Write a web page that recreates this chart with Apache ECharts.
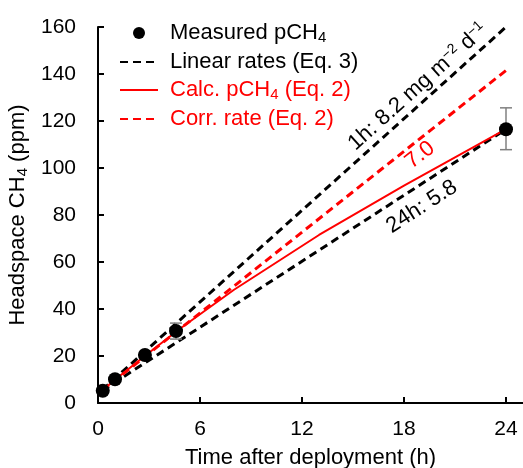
<!DOCTYPE html>
<html><head><meta charset="utf-8">
<script src="https://cdn.jsdelivr.net/npm/echarts@6/dist/echarts.min.js"></script>
<style>html,body{margin:0;padding:0;background:#fff}#c{width:523px;height:468px}</style>
</head><body><div id="c"></div>
<script>
// ---- data ----
const measuredTime = [0.28, 1.0, 2.76, 4.59, 24];
const measuredCH4  = [5.2, 10.1, 20.4, 30.6, 116.5];
const errTime = [4.59, 24];
const errLow  = [27.2, 107.8];
const errHigh = [34.0, 125.6];
const rate1hTime  = [0.25, 24];
const rate1hCH4   = [5.6, 160];
const rate24hTime = [0.25, 24];
const rate24hCH4  = [5.3, 116.5];
const calcTime = [0.25, 1, 2.75, 4.8, 8, 13, 18, 24];
const calcCH4  = [5.3, 9.9, 20, 31.5, 48.2, 71.5, 92.5, 116.5];
const corrTime = [0.25, 24];
const corrCH4  = [5.3, 141.5];
const xTicks = [0, 6, 12, 18, 24];
const yTicks = [0, 20, 40, 60, 80, 100, 120, 140, 160];
const seriesNames = ['Measured pCH4', 'Linear rates (Eq. 3)', 'Calc. pCH4 (Eq. 2)', 'Corr. rate (Eq. 2)'];
const annoTime = [18.82, 18.94, 19.05];
const annoCH4  = [134.5, 105.5, 83.5];
const annoText = ['{a|1h: 8.2 mg m}{sup|−2}{a| d}{sup|−1}', '{r|7.0}', '{a|24h: 5.8}'];
const annoAngle = [41.9, 38.4, 32.9];
const annoColor = ['#000', '#ff0000', '#000'];

const FONT = "'Liberation Sans', Arial, Helvetica, sans-serif";
const zip = (a, b) => a.map((v, i) => [v, b[i]]);

const legendFmt = {
  'Measured pCH4': '{k|Measured pCH}{ks|4}',
  'Linear rates (Eq. 3)': '{k|Linear rates (Eq. 3)}',
  'Calc. pCH4 (Eq. 2)': '{r|Calc. pCH}{rs|4}{r| (Eq. 2)}',
  'Corr. rate (Eq. 2)': '{r|Corr. rate (Eq. 2)}'
};

const chart = echarts.init(document.getElementById('c'), null, {renderer: 'canvas'});
const option = {
  animation: false,
  backgroundColor: '#fff',
  textStyle: {fontFamily: FONT},
  grid: {left: 98, right: 0, top: 27, bottom: 65, containLabel: false, outerBoundsMode: 'none'},
  legend: {
    orient: 'vertical', left: 114, top: 17, itemWidth: 38, itemHeight: 12, itemGap: 6,
    selectedMode: false,
    data: [
      {name: seriesNames[0]},
      {name: seriesNames[1], itemStyle: {opacity: 0}},
      {name: seriesNames[2], itemStyle: {opacity: 0}},
      {name: seriesNames[3], itemStyle: {opacity: 0}}
    ],
    formatter: n => legendFmt[n],
    textStyle: {
      fontFamily: FONT, fontSize: 22, padding: [0, 0, 0, 7],
      rich: {
        k: {fontSize: 22, color: '#000', lineHeight: 24, fontFamily: FONT},
        ks: {fontSize: 15, color: '#000', lineHeight: 14, verticalAlign: 'bottom', fontFamily: FONT},
        r: {fontSize: 22, color: '#ff0000', lineHeight: 24, fontFamily: FONT},
        rs: {fontSize: 15, color: '#ff0000', lineHeight: 14, verticalAlign: 'bottom', fontFamily: FONT}
      }
    }
  },
  xAxis: {
    type: 'value', min: 0, max: 25, interval: 6,
    axisLine: {lineStyle: {color: '#000', width: 2}},
    axisTick: {inside: true, length: 6, customValues: xTicks, lineStyle: {color: '#000', width: 2}},
    axisLabel: {customValues: xTicks, fontSize: 21, color: '#000', margin: 16, fontFamily: FONT},
    splitLine: {show: false},
    name: 'Time after deployment (h)', nameLocation: 'middle', nameGap: 44,
    nameTextStyle: {fontSize: 22, color: '#000', fontFamily: FONT}
  },
  yAxis: {
    type: 'value', min: 0, max: 160, interval: 20,
    axisLine: {show: true, lineStyle: {color: '#000', width: 2}},
    axisTick: {show: true, inside: true, length: 6, customValues: yTicks, lineStyle: {color: '#000', width: 2}},
    axisLabel: {customValues: yTicks, fontSize: 21, color: '#000', margin: 22, fontFamily: FONT},
    splitLine: {show: false},
    name: '{a|Headspace CH}{s|4}{a| (ppm)}', nameLocation: 'middle', nameGap: 60, nameRotate: 90,
    nameTextStyle: {
      color: '#000', fontFamily: FONT,
      rich: {
        a: {fontSize: 22, lineHeight: 24, color: '#000', fontFamily: FONT},
        s: {fontSize: 15, lineHeight: 14, verticalAlign: 'bottom', color: '#000', fontFamily: FONT}
      }
    }
  },
  series: [
    {name: seriesNames[1], type: 'line', data: zip(rate1hTime, rate1hCH4), symbol: 'none', showSymbol: false, clip: true,
     lineStyle: {color: '#000', width: 3, type: [8, 5]}, itemStyle: {color: '#000'}, z: 2},
    {name: seriesNames[1], type: 'line', data: zip(rate24hTime, rate24hCH4), symbol: 'none', showSymbol: false, clip: true,
     lineStyle: {color: '#000', width: 3, type: [8, 5]}, itemStyle: {color: '#000'}, z: 2},
    {name: seriesNames[3], type: 'line', data: zip(corrTime, corrCH4), symbol: 'none', showSymbol: false,
     lineStyle: {color: '#ff0000', width: 3, type: [8, 5]}, itemStyle: {color: '#ff0000'}, z: 3},
    {name: seriesNames[2], type: 'line', data: zip(calcTime, calcCH4), symbol: 'none', showSymbol: false,
     smooth: false,
     lineStyle: {color: '#ff0000', width: 2}, itemStyle: {color: '#ff0000'}, z: 3},
    {type: 'custom', data: errTime.map((t, i) => [t, errLow[i], errHigh[i]]), z: 4,
     renderItem: (params, api) => {
       const lo = api.coord([api.value(0), api.value(1)]);
       const hi = api.coord([api.value(0), api.value(2)]);
       const w = 6, st = {stroke: '#808080', lineWidth: 1.5};
       return {type: 'group', children: [
         {type: 'line', shape: {x1: lo[0], y1: lo[1], x2: hi[0], y2: hi[1]}, style: st},
         {type: 'line', shape: {x1: lo[0] - w, y1: lo[1], x2: lo[0] + w, y2: lo[1]}, style: st},
         {type: 'line', shape: {x1: hi[0] - w, y1: hi[1], x2: hi[0] + w, y2: hi[1]}, style: st}
       ]};
     }},
    {name: seriesNames[0], type: 'scatter', data: zip(measuredTime, measuredCH4), symbol: 'circle', symbolSize: 14,
     itemStyle: {color: '#000', opacity: 1}, z: 5},
    {type: 'scatter', symbolSize: 0, z: 6, silent: true, itemStyle: {opacity: 1},
     data: annoTime.map((t, i) => ({
       value: [t, annoCH4[i]],
       label: {show: true, position: 'inside', formatter: annoText[i], rotate: annoAngle[i],
               align: 'center', verticalAlign: 'middle', color: annoColor[i], opacity: 1,
               textBorderWidth: 0, textShadowBlur: 0,
               rich: {
                 a: {fontSize: 22, color: annoColor[i], fontFamily: FONT, lineHeight: 24, textBorderWidth: 0},
                 r: {fontSize: 22, color: annoColor[i], fontFamily: FONT, lineHeight: 24, textBorderWidth: 0},
                 sup: {fontSize: 14, color: annoColor[i], fontFamily: FONT, lineHeight: 14, verticalAlign: 'top', textBorderWidth: 0}
               }}
     }))}
  ]
};
chart.setOption(option);
</script></body></html>
